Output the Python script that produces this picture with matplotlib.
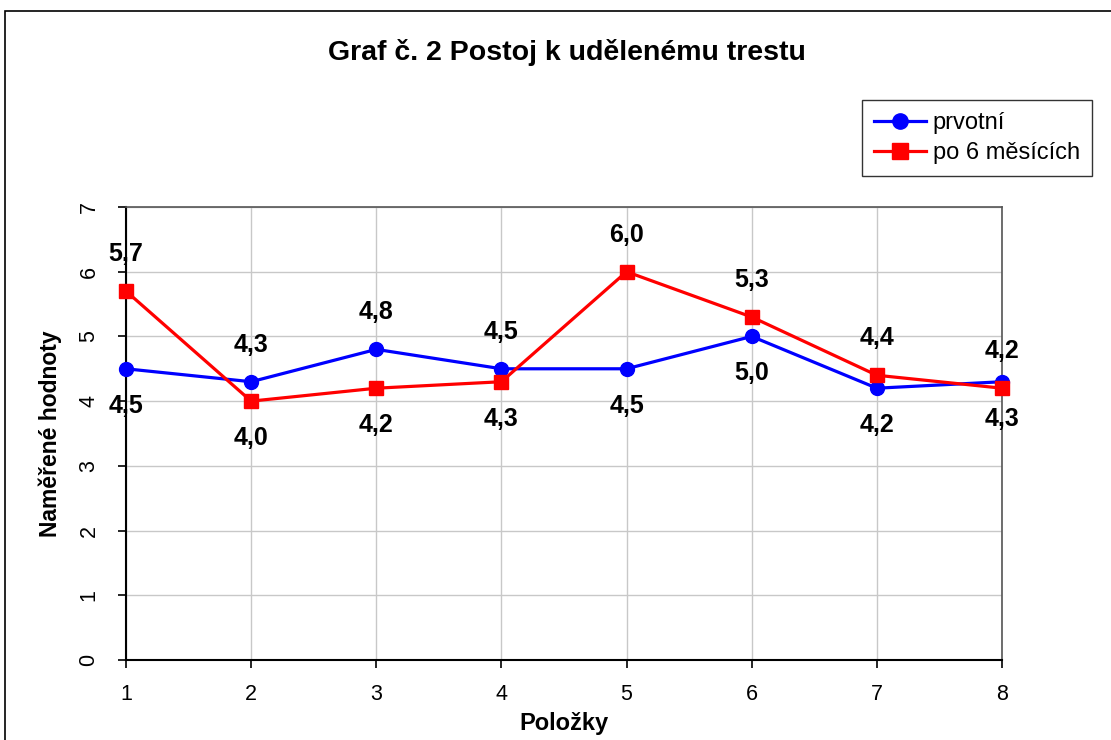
import matplotlib
matplotlib.use("Agg")
import matplotlib.pyplot as plt
from matplotlib.patches import Rectangle

categories = [1, 2, 3, 4, 5, 6, 7, 8]
prvotni = [4.5, 4.3, 4.8, 4.5, 4.5, 5.0, 4.2, 4.3]
po6 = [5.7, 4.0, 4.2, 4.3, 6.0, 5.3, 4.4, 4.2]
# label placement: +1 above, -1 below
prvotni_pos = [-1, 1, 1, 1, -1, -1, -1, -1]
po6_pos = [1, -1, -1, -1, 1, 1, 1, 1]

plt.rcParams['font.family'] = ['Liberation Sans', 'DejaVu Sans']

fig = plt.figure(figsize=(11.11, 7.4), dpi=100)
fig.patch.set_facecolor('white')
# outer chart frame
fig.patches.append(Rectangle((5/1111, -0.2), 1.2, 1.2 - 11/740, transform=fig.transFigure,
                             fill=False, edgecolor='black', linewidth=1.2, zorder=0))

ax = fig.add_axes([126/1111, 1 - 660/740, (1002-126)/1111, (660-207)/740])

ax.plot(categories, prvotni, color='#0000ff', lw=2.3, marker='o', ms=10, label='prvotní', zorder=3, clip_on=False)
ax.plot(categories, po6, color='#ff0000', lw=2.3, marker='s', ms=10, label='po 6 měsících', zorder=4, clip_on=False)

def fmt(v):
    return f"{v:.1f}".replace('.', ',')

for xs, ys, ps in [(categories, prvotni, prvotni_pos), (categories, po6, po6_pos)]:
    for x, y, p in zip(xs, ys, ps):
        ax.annotate(fmt(y), (x, y), xytext=(0, 37 * p), textcoords='offset pixels',
                    ha='center', va='center', fontsize=18, fontweight='bold', zorder=5,
                    annotation_clip=False)

ax.set_xlim(1, 8)
ax.set_ylim(0, 7)
ax.set_xticks(categories)
ax.set_yticks(range(0, 8))
ax.grid(True, color='#c8c8c8', lw=1)
ax.set_axisbelow(True)
for s in ['left', 'bottom']:
    ax.spines[s].set_color('black')
    ax.spines[s].set_linewidth(1.5)
for s in ['top', 'right']:
    ax.spines[s].set_color('#555555')
    ax.spines[s].set_linewidth(1.2)
ax.tick_params(axis='both', direction='out', length=6, width=1.2, labelsize=15.5)
ax.tick_params(axis='y', pad=13, labelrotation=90)
ax.tick_params(axis='x', pad=11)
for lbl in ax.get_yticklabels():
    lbl.set_va('center')

ax.set_xlabel('Položky', fontsize=17, fontweight='bold', labelpad=5)
ax.set_ylabel('Naměřené hodnoty', fontsize=16.5, fontweight='bold', labelpad=12)

fig.text(567/1111, 1 - 52/740, 'Graf č. 2 Postoj k udělenému trestu', ha='center', va='center',
         fontsize=20.5, fontweight='bold')

leg = fig.legend(loc='upper left', bbox_to_anchor=(862/1111, 1 - 100/740), fontsize=17,
                 frameon=True, fancybox=False, edgecolor='black', handlelength=2.2,
                 borderaxespad=0, borderpad=0.5, labelspacing=0.35, handletextpad=0.3,
                 markerscale=1.1)
leg.get_frame().set_linewidth(1.0)

fig.savefig('out.png', dpi=100)
